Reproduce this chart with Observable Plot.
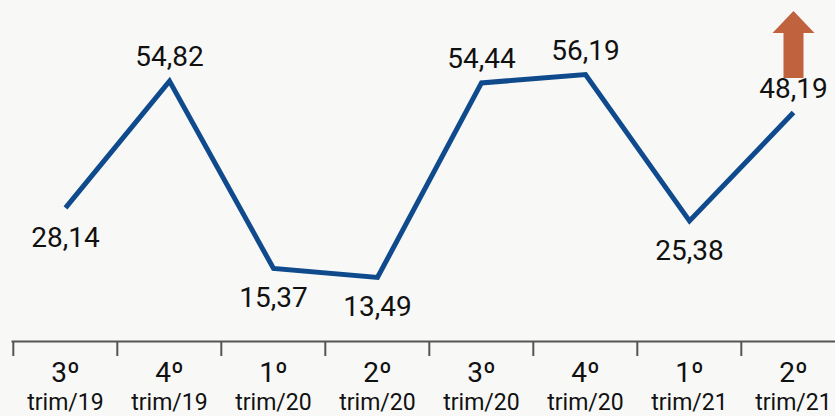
<!DOCTYPE html>
<html>
<head>
<meta charset="utf-8">
<script src="https://cdn.jsdelivr.net/npm/d3@7"></script>
<script src="https://cdn.jsdelivr.net/npm/@observablehq/plot@0.6"></script>
<style>
  html, body { margin: 0; padding: 0; background: #f8f8f6; }
  #chart svg { display: block; background: #f8f8f6; font-family: Roboto, "Noto Sans", sans-serif; }
</style>
</head>
<body>
<div id="chart"></div>
<script>
const quarters = ["3º", "4º", "1º", "2º", "3º", "4º", "1º", "2º"];
const periods = ["trim/19", "trim/19", "trim/20", "trim/20", "trim/20", "trim/20", "trim/21", "trim/21"];
const values = [28.14, 54.82, 15.37, 13.49, 54.44, 56.19, 25.38, 48.19];

const categories = quarters.map((q, i) => `${q} ${periods[i]}`);
const data = categories.map((c, i) => {
  const prev = values[i - 1], next = values[i + 1];
  const neigh = [prev, next].filter(v => v !== undefined);
  const avg = d3.mean(neigh);
  return { cat: c, q: quarters[i], p: periods[i], value: values[i], above: values[i] > avg };
});
const fmt = v => v.toFixed(2).replace(".", ",");

const W = 835, H = 416;
const left = 11.5, right = 846.5;
const step = (right - left) / categories.length;

const arrowSymbol = {
  draw(context) {
    context.moveTo(-10, 33.5);
    context.lineTo(-10, -11.5);
    context.lineTo(-21, -11.5);
    context.lineTo(0, -33.5);
    context.lineTo(21, -11.5);
    context.lineTo(10, -11.5);
    context.lineTo(10, 33.5);
    context.closePath();
  }
};

const chart = Plot.plot({
  width: W,
  height: H,
  marginLeft: left,
  marginRight: 0,
  marginTop: 56,
  marginBottom: 75,
  style: { background: "#f8f8f6", fontFamily: "Roboto, 'Noto Sans', sans-serif", overflow: "visible" },
  x: { type: "point", domain: categories, range: [left + step / 2, right - step / 2], padding: 0, axis: null, label: null },
  y: { domain: [0, 60], axis: null },
  marks: [
    Plot.ruleY([0], { stroke: "#555555", strokeWidth: 2 }),
    Plot.axisX({ tickSize: 15, tickFormat: () => "", label: null, dx: -step / 2, stroke: "#555555", strokeWidth: 2 }),
    Plot.text(data, { x: "cat", frameAnchor: "bottom", dy: 40.7, text: "q", fontSize: 28, fill: "#111111" }),
    Plot.text(data, { x: "cat", frameAnchor: "bottom", dy: 68, text: "p", fontSize: 23, fill: "#111111" }),
    Plot.line(data, { x: "cat", y: "value", stroke: "#0f4a8d", strokeWidth: 5, strokeLinejoin: "miter", strokeLinecap: "butt", strokeMiterlimit: 10 }),
    Plot.text(data.filter(d => d.above), { x: "cat", y: "value", dy: -24, text: d => fmt(d.value), fontSize: 28, fill: "#111111" }),
    Plot.text(data.filter(d => !d.above), { x: "cat", y: "value", dy: 30, text: d => fmt(d.value), fontSize: 28, fill: "#111111" }),
    Plot.dot(data.slice(-1), { x: "cat", y: "value", dy: -68, symbol: arrowSymbol, r: 10, fill: "#c1623f", stroke: "none" })
  ]
});
document.getElementById("chart").appendChild(chart);
</script>
</body>
</html>
